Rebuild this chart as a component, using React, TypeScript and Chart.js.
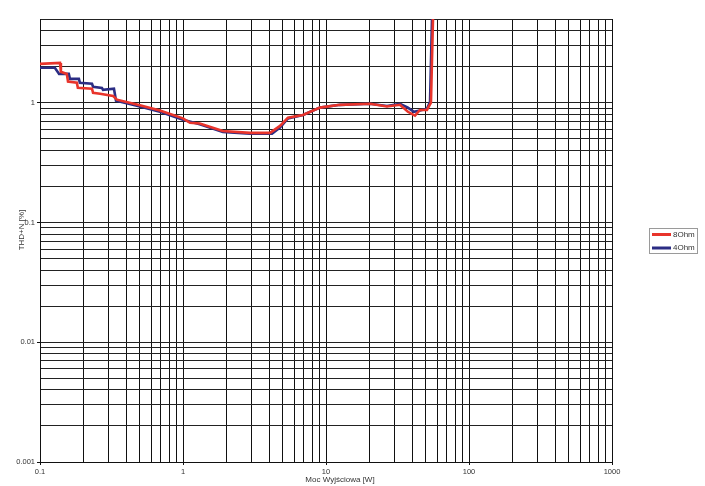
import { useEffect, useRef } from 'react'
import { Chart, registerables } from 'chart.js'

Chart.register(...registerables)

// THD+N vs output power
const ohm8Power = [0.1, 0.138, 0.14, 0.154, 0.157, 0.181, 0.184, 0.231, 0.235, 0.263, 0.324, 0.345, 0.484, 0.69, 1.0, 1.12, 1.31, 1.9, 2.94, 4.06, 4.77, 5.42, 6.9, 9.08, 12.5, 20.3, 26.7, 32.9, 37.4, 41.9, 45.4, 50.8, 54.2, 56.0, 57.0]
const ohm8Thd = [2.11, 2.15, 1.81, 1.74, 1.5, 1.47, 1.33, 1.31, 1.21, 1.19, 1.14, 1.06, 0.96, 0.86, 0.74, 0.68, 0.67, 0.58, 0.56, 0.56, 0.64, 0.75, 0.79, 0.91, 0.96, 0.98, 0.93, 0.96, 0.84, 0.78, 0.87, 0.87, 1.0, 5.0, 8.0]

const ohm4Power = [0.1, 0.127, 0.136, 0.159, 0.162, 0.187, 0.19, 0.231, 0.235, 0.271, 0.276, 0.329, 0.34, 0.484, 0.69, 1.0, 1.31, 1.9, 2.94, 4.19, 4.77, 5.42, 6.9, 9.08, 12.5, 20.3, 26.7, 32.9, 37.4, 41.2, 45.4, 50.8, 53.4, 55.1, 56.0]
const ohm4Thd = [1.96, 1.96, 1.74, 1.74, 1.58, 1.58, 1.47, 1.44, 1.36, 1.33, 1.28, 1.31, 1.04, 0.94, 0.84, 0.72, 0.66, 0.57, 0.55, 0.55, 0.62, 0.74, 0.79, 0.91, 0.96, 0.98, 0.94, 0.98, 0.91, 0.84, 0.86, 0.89, 1.02, 5.0, 8.0]

const xTickLabels = [0.1, 1, 10, 100, 1000]
const yTickLabels = [0.001, 0.01, 0.1, 1]
const xLimits = [0.1, 1000]
const yLimits = [0.001, 5]

const FONT = '"Liberation Sans", Arial, sans-serif'
const TEXT = '#333'

function logGrid(min: number, max: number) {
  const out: number[] = []
  for (let e = Math.floor(Math.log10(min)); e <= Math.ceil(Math.log10(max)); e++) {
    for (let m = 1; m <= 9; m++) {
      const v = Number((m * Math.pow(10, e)).toPrecision(3))
      if (v >= min * 0.999 && v <= max * 1.001) out.push(v)
    }
  }
  return out
}

const isLabel = (v: number, labels: number[]) => labels.some(l => Math.abs(v - l) < l * 1e-6)

const annotations = {
  id: 'annotations',
  afterDraw(chart: any) {
    const { ctx, chartArea } = chart
    ctx.save()
    ctx.font = `8px ${FONT}`
    ctx.fillStyle = TEXT
    ctx.textAlign = 'center'
    ctx.textBaseline = 'middle'
    // axis titles
    ctx.fillText('Moc Wyjściowa [W]', chartArea.left + 300, chartArea.bottom + 18)
    ctx.save()
    ctx.translate(21.5, chartArea.top + 211)
    ctx.rotate(-Math.PI / 2)
    ctx.fillText('THD+N [%]', 0, 0)
    ctx.restore()

    // legend box
    const x = chartArea.right + 37
    const y = chartArea.top + 209
    ctx.strokeStyle = '#9a9a9a'
    ctx.lineWidth = 1
    ctx.strokeRect(x + 0.5, y + 0.5, 48, 25)
    ctx.textAlign = 'left'
    chart.data.datasets.forEach((ds: any, i: number) => {
      const ly = y + 6.5 + i * 13.5
      ctx.strokeStyle = ds.borderColor
      ctx.lineWidth = 3
      ctx.beginPath()
      ctx.moveTo(x + 3, ly)
      ctx.lineTo(x + 22, ly)
      ctx.stroke()
      ctx.fillText(ds.label, x + 24, ly)
    })
    ctx.restore()
  }
}

export default function App() {
  const chartRef = useRef<HTMLCanvasElement>(null)
  const chartInstance = useRef<Chart | null>(null)

  useEffect(() => {
    document.body.style.margin = '0'
    if (!chartRef.current) return
    if (chartInstance.current) chartInstance.current.destroy()

    const tickFont = { family: FONT, size: 7.5 }

    chartInstance.current = new Chart(chartRef.current, {
      type: 'line',
      data: {
        datasets: [
          {
            label: '8Ohm',
            data: ohm8Power.map((x, i) => ({ x, y: ohm8Thd[i] })),
            borderColor: '#e8342b',
            borderWidth: 2.6,
            pointRadius: 0,
            tension: 0
          },
          {
            label: '4Ohm',
            data: ohm4Power.map((x, i) => ({ x, y: ohm4Thd[i] })),
            borderColor: '#2b2d84',
            borderWidth: 2.6,
            pointRadius: 0,
            tension: 0
          }
        ]
      },
      options: {
        responsive: true,
        maintainAspectRatio: false,
        animation: false,
        layout: { padding: { left: 0, top: 19, right: 93, bottom: 0 } },
        plugins: {
          legend: { display: false },
          tooltip: { enabled: false }
        },
        scales: {
          x: {
            type: 'logarithmic',
            min: xLimits[0],
            max: xLimits[1],
            afterBuildTicks: (scale: any) => {
              scale.ticks = logGrid(xLimits[0], xLimits[1]).map(value => ({ value }))
            },
            afterFit: (scale: any) => { scale.height = 24 },
            ticks: {
              autoSkip: false,
              maxRotation: 0,
              padding: 2,
              color: TEXT,
              font: tickFont,
              callback: (value: any) => (isLabel(Number(value), xTickLabels) ? String(value) : '')
            },
            grid: {
              color: '#111',
              lineWidth: 1,
              tickLength: 3,
              tickColor: (ctx: any) => (ctx.tick && isLabel(ctx.tick.value, xTickLabels) ? '#111' : 'rgba(0,0,0,0)')
            },
            border: { color: '#111', width: 1 }
          },
          y: {
            type: 'logarithmic',
            min: yLimits[0],
            max: yLimits[1],
            afterBuildTicks: (scale: any) => {
              scale.ticks = logGrid(yLimits[0], yLimits[1]).map(value => ({ value }))
            },
            afterFit: (scale: any) => { scale.width = 40 },
            ticks: {
              autoSkip: false,
              padding: 2,
              color: TEXT,
              font: tickFont,
              callback: (value: any) => (isLabel(Number(value), yTickLabels) ? String(value) : '')
            },
            grid: {
              color: '#222',
              lineWidth: 1,
              tickLength: 3,
              tickColor: (ctx: any) => (ctx.tick && isLabel(ctx.tick.value, yTickLabels) ? '#111' : 'rgba(0,0,0,0)')
            },
            border: { color: '#111', width: 1 }
          }
        }
      },
      plugins: [annotations]
    })

    return () => {
      if (chartInstance.current) {
        chartInstance.current.destroy()
        chartInstance.current = null
      }
    }
  }, [])

  return (
    <div style={{ width: '705px', height: '486px', position: 'relative' }}>
      <canvas ref={chartRef}></canvas>
    </div>
  )
}
